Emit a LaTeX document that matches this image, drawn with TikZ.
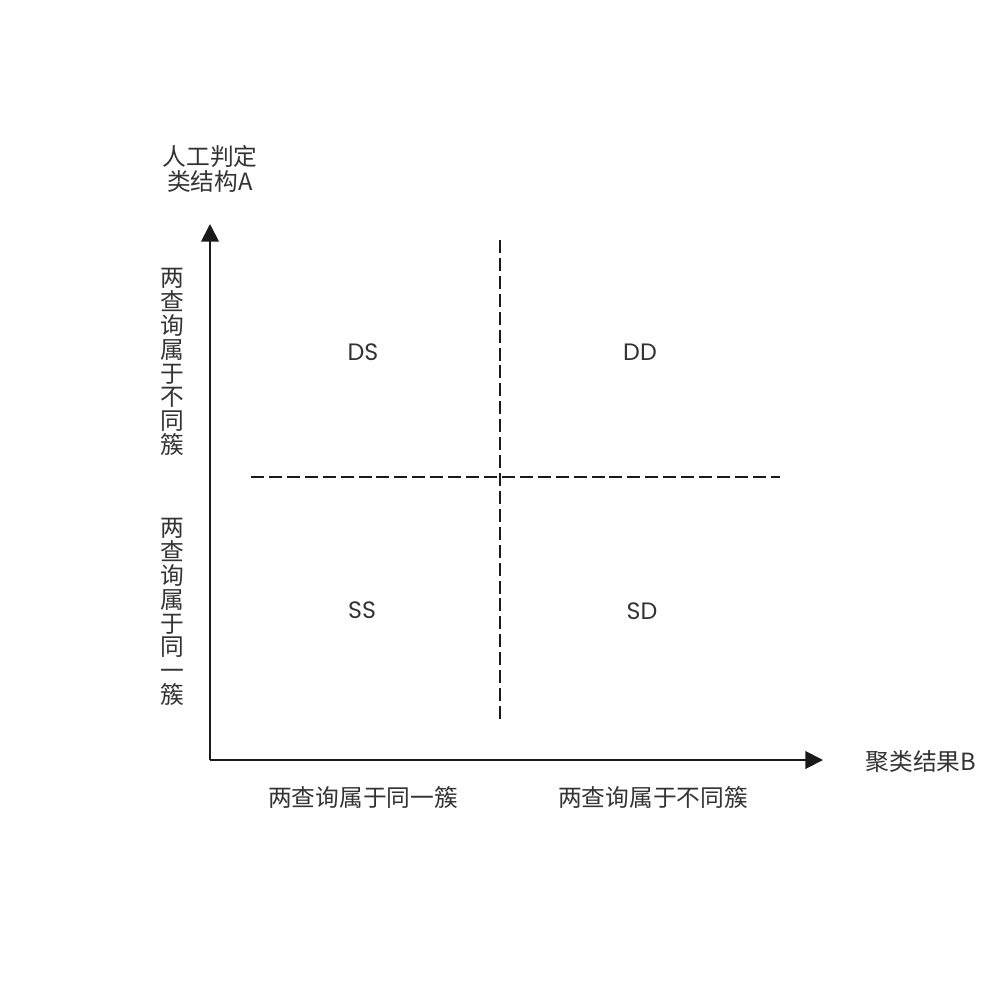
\documentclass[tikz,border=0pt]{standalone}
\usepackage{fontspec}
\setmainfont{Poppins}
\newfontfamily\cjk{Noto Sans CJK SC}
\usetikzlibrary{arrows.meta}
\definecolor{txt}{HTML}{333333}
\definecolor{ln}{HTML}{1A1A1A}
\begin{document}
\begin{tikzpicture}[x=0.02cm,y=-0.02cm,
  lbl/.style={text=txt,font=\cjk\fontsize{13.5}{13.6}\selectfont,inner sep=0pt,align=center},
  quad/.style={text=txt,font=\fontsize{13.5}{14}\selectfont,inner sep=0pt},
  axis/.style={draw=ln,line width=1.1pt,-{Triangle[length=10pt,width=10pt]}},
  divider/.style={draw=ln,line width=1.1pt,dash pattern=on 7.4pt off 2.8pt}]
\useasboundingbox (0,0) rectangle (1000,1000);
\coordinate (O) at (210,760);
\coordinate (ytip) at (210,224);
\coordinate (xtip) at (823,760);
\coordinate (hL) at (251,477);
\coordinate (hR) at (780,477);
\coordinate (vT) at (500,240);
\coordinate (vB) at (500,719);
\draw[axis] (O) -- (ytip);
\draw[axis] (O) -- (xtip);
\draw[divider] (hL) -- (hR);
\draw[divider] (vT) -- (vB);
\node[lbl] (ylab) at (210,169) {人工判定\\[0.7pt]类结构A};
\node[lbl] (xlab) at (921,762) {聚类结果B};
\node[lbl] (yu) at (172,362) {两\\查\\询\\属\\于\\不\\同\\簇};
\node[lbl] (yl) at (172,612) {两\\查\\询\\属\\于\\同\\一\\簇};
\node[lbl] (xl) at (363,797) {两查询属于同一簇};
\node[lbl] (xr) at (653,797) {两查询属于不同簇};
\node[quad] (DS) at (363,352) {DS};
\node[quad] (DD) at (640,352) {DD};
\node[quad] (SS) at (362,610) {SS};
\node[quad] (SD) at (642,611) {SD};
\end{tikzpicture}
\end{document}
